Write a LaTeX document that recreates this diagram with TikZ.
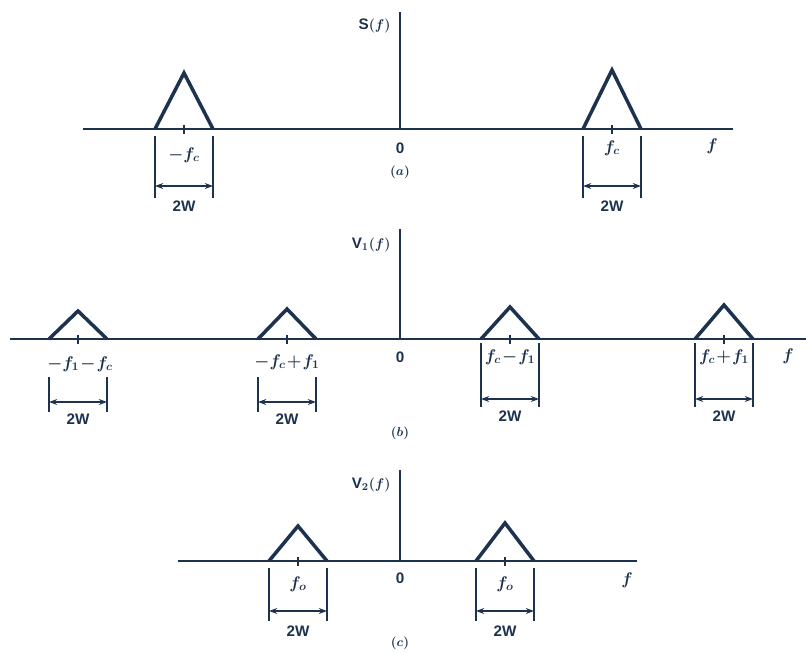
\documentclass[tikz,border=0pt]{standalone}
\usepackage{fontspec}
\setmainfont{Liberation Sans}
\usetikzlibrary{arrows.meta}
\definecolor{ink}{RGB}{28,50,78}

\begin{document}
\begin{tikzpicture}[
    x=0.03cm, y=-0.03cm,
    axis/.style={draw=ink, line width=2.3pt},
    yaxis/.style={draw=ink, line width=1.4pt},
    peak/.style={draw=ink, line width=3pt, line join=miter},
    tck/.style={draw=ink, line width=1pt},
    ext/.style={draw=ink, line width=0.9pt},
    dim/.style={draw=ink, line width=1.1pt, {Stealth[length=7pt,width=5pt]}-{Stealth[length=7pt,width=5pt]}},
    lbl/.style={text=ink, font=\fontsize{13}{15}\selectfont\bfseries\boldmath, inner sep=1pt},
    frq/.style={text=ink, font=\fontsize{14}{16}\selectfont\boldmath, inner sep=1pt},
    partlbl/.style={text=ink, font=\fontsize{11}{13}\selectfont\boldmath, inner sep=1pt}
]
\useasboundingbox (0,0) rectangle (806,653);

% (a)
\draw[axis] (83,129) -- (733,129);
\draw[yaxis] (400,129) -- (400,12);
\node[lbl, anchor=east] (sa) at (392,26) {S$(f)$};
\node[lbl] (za) at (400,148) {0};
\node[frq] (fa) at (712,146) {$f$};
\node[partlbl] (parta) at (400,172) {$(a)$};
\foreach \c/\h [count=\i] in {184/73, 612/70} {
  \draw[peak] (\c-29,129) -- (\c,\h) -- (\c+29,129);
  \draw[tck] (\c,125) -- (\c,134);
  \draw[ext] (\c-29,136) -- (\c-29,198);
  \draw[ext] (\c+29,136) -- (\c+29,198);
  \coordinate (al\i) at (\c-29,186);
  \coordinate (ar\i) at (\c+29,186);
  \draw[dim] (al\i) -- (ar\i);
  \node[lbl] (wa\i) at (\c,206) {2W};
}
\node[frq] (fca1) at (184,155) {$-f_c$};
\node[frq] (fca2) at (612,148) {$f_c$};

% (b)
\draw[axis] (10,339) -- (806,339);
\draw[yaxis] (400,339) -- (400,229);
\node[lbl, anchor=east] (sb) at (392,245) {V$_1(f)$};
\node[lbl] (zb) at (400,357) {0};
\node[frq] (fb) at (788,356) {$f$};
\node[partlbl] (partb) at (400,433) {$(b)$};
\foreach \c/\h [count=\i] in {78/311, 287/309, 510/307, 724/305} {
  \draw[peak] (\c-29,339) -- (\c,\h) -- (\c+29,339);
  \draw[tck] (\c,335) -- (\c,344);
}
\foreach \c/\t/\b/\y [count=\i] in {78/377/412/402, 287/377/412/402, 510/343/407/399, 724/343/407/399} {
  \draw[ext] (\c-29,\t) -- (\c-29,\b);
  \draw[ext] (\c+29,\t) -- (\c+29,\b);
  \coordinate (bl\i) at (\c-29,\y);
  \coordinate (br\i) at (\c+29,\y);
  \draw[dim] (bl\i) -- (br\i);
  \node[lbl] (wb\i) at (\c,\y+17) {2W};
}
\node[frq] (fcb1) at (80,364) {$-f_1\!-\!f_c$};
\node[frq] (fcb2) at (287,362) {$-f_c\!+\!f_1$};
\node[frq] (fcb3) at (510,357) {$f_c\!-\!f_1$};
\node[frq] (fcb4) at (724,357) {$f_c\!+\!f_1$};

% (c)
\draw[axis] (178,561) -- (637,561);
\draw[yaxis] (400,561) -- (400,470);
\node[lbl, anchor=east] (sc) at (392,485) {V$_2(f)$};
\node[lbl] (zc) at (400,578) {0};
\node[frq] (fc) at (627,580) {$f$};
\node[partlbl] (partc) at (400,643) {$(c)$};
\foreach \c/\h [count=\i] in {298/526, 505/523} {
  \draw[peak] (\c-29,561) -- (\c,\h) -- (\c+29,561);
  \draw[tck] (\c,557) -- (\c,566);
  \draw[ext] (\c-29,568) -- (\c-29,621);
  \draw[ext] (\c+29,568) -- (\c+29,621);
  \coordinate (cl\i) at (\c-29,611);
  \coordinate (cr\i) at (\c+29,611);
  \draw[dim] (cl\i) -- (cr\i);
  \node[lbl] (wc\i) at (\c,631) {2W};
  \node[frq] (foc\i) at (\c,584) {$f_o$};
}
\end{tikzpicture}
\end{document}
